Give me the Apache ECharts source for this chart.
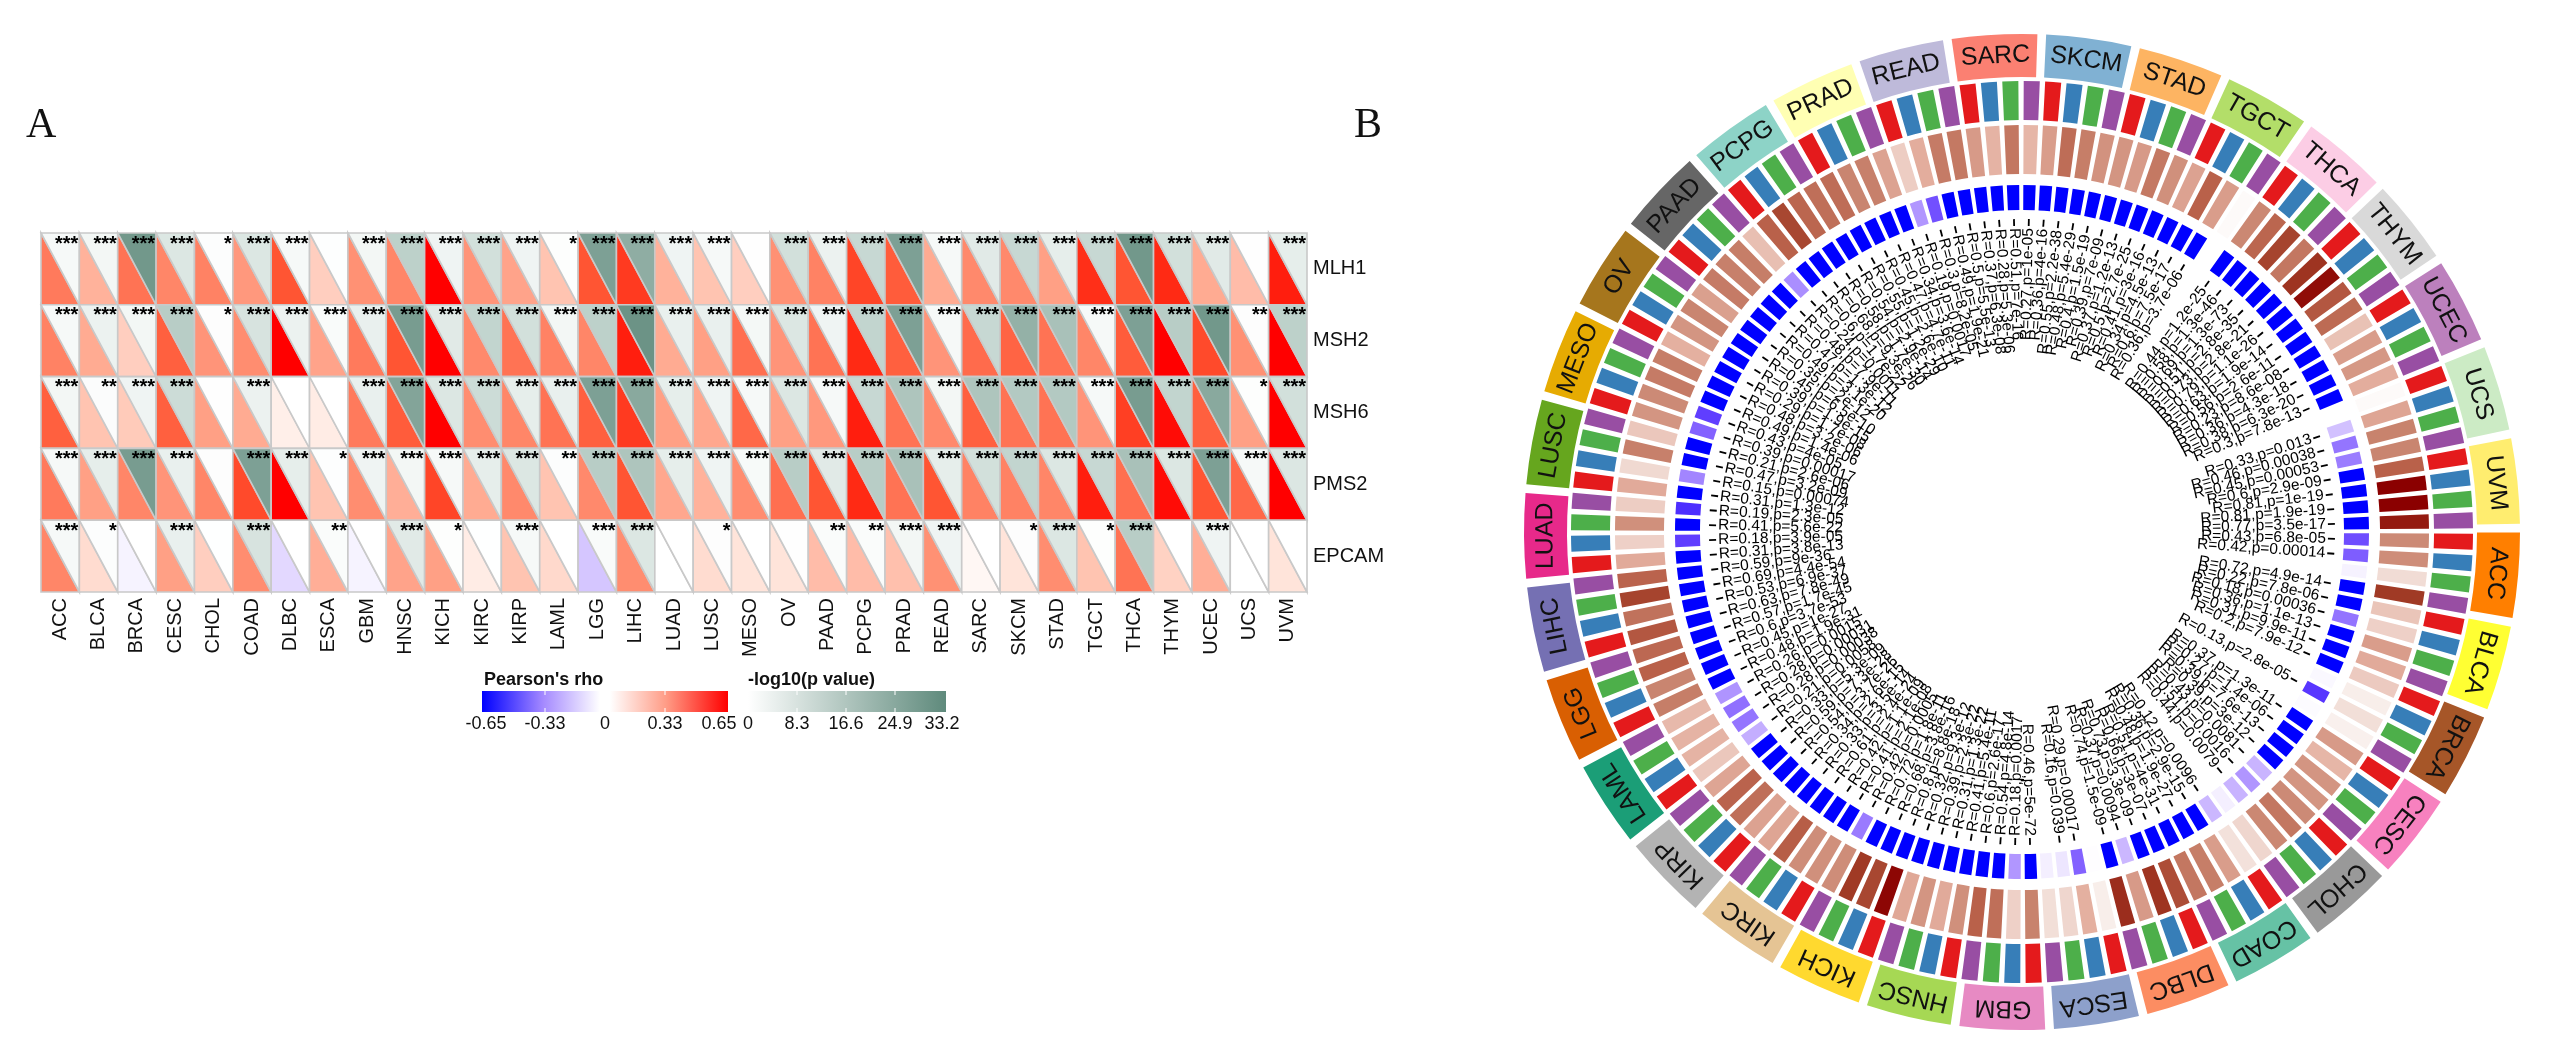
<!DOCTYPE html>
<html><head><meta charset="utf-8">
<style>html,body{margin:0;padding:0;background:#fff}#c{width:2560px;height:1052px}</style>
<script src="https://cdn.jsdelivr.net/npm/echarts@6/dist/echarts.min.js"></script>
</head><body><div id="c"></div>
<script>
const cancers = ["ACC","BLCA","BRCA","CESC","CHOL","COAD","DLBC","ESCA","GBM","HNSC","KICH","KIRC","KIRP","LAML","LGG","LIHC","LUAD","LUSC","MESO","OV","PAAD","PCPG","PRAD","READ","SARC","SKCM","STAD","TGCT","THCA","THYM","UCEC","UCS","UVM"];
const genes = ["MLH1","MSH2","MSH6","PMS2","EPCAM"];
const rhoMLH1 = [.4,.25,.42,.37,.38,.32,.5,.17,.34,.37,.65,.33,.29,.2,.5,.55,.25,.2,.17,.34,.38,.53,.48,.27,.36,.36,.3,.57,.5,.58,.27,.22,.6];
const rhoMSH2 = [.38,.27,.17,.47,.33,.35,.65,.29,.4,.5,.65,.36,.42,.38,.37,.6,.27,.3,.43,.33,.42,.58,.47,.33,.44,.46,.42,.37,.48,.65,.52,.34,.65];
const rhoMSH6 = [.47,.2,.18,.47,.3,.27,.06,.07,.4,.48,.65,.35,.37,.42,.47,.55,.3,.28,.45,.3,.32,.6,.42,.36,.47,.42,.42,.33,.54,.63,.47,.3,.65];
const rhoPMS2 = [.4,.3,.37,.33,.37,.52,.65,.2,.35,.26,.53,.27,.36,.2,.36,.5,.28,.25,.35,.43,.5,.58,.42,.5,.38,.38,.37,.6,.43,.63,.5,.45,.65];
const rhoEPCAM = [.37,.13,-.04,.3,.17,.35,-.13,.26,-.04,.29,.3,.07,.2,.14,-.18,.35,0,.13,.1,.1,.22,.22,.21,.34,.03,.1,.35,.2,.42,.16,.26,0,.1];
const logpMLH1 = [3,4,30,10,1,10,3,.5,4,16,5,12,5,.7,28,25,5,3,.3,12,6,14,28,3,9,14,8,14,30,12,9,.3,8];
const logpMSH2 = [3,6,4,17,.8,11,6,2,7,29,9,15,12,4,16,31,7,7,3.5,10,5,15,28,3,14,24,20,3,28,17,30,.8,16];
const logpMSH6 = [4,1.2,5,13,.3,6,0,0,7,27,10,13,8,7,28,26,8,5,3,10,3,14,19,4,19,18,18,3,29,15,26,.7,12];
const logpPMS2 = [3,8,29,7,.8,28,8,.6,5,4,3,8,10,1,17,19,8,5,2.5,17,9,17,20,8,12,15,10,14,20,10,28,3,10];
const logpEPCAM = [3,1,0,7,.2,11,0,1.5,.1,9,.7,.2,3,0,2,10,0,.8,0,.4,1.5,1.5,4,5,0,.8,10,.7,17,0,5,0,0];
const starsMLH1 = [3,3,3,3,1,3,3,0,3,3,3,3,3,1,3,3,3,3,0,3,3,3,3,3,3,3,3,3,3,3,3,0,3];
const starsMSH2 = [3,3,3,3,1,3,3,3,3,3,3,3,3,3,3,3,3,3,3,3,3,3,3,3,3,3,3,3,3,3,3,2,3];
const starsMSH6 = [3,2,3,3,0,3,0,0,3,3,3,3,3,3,3,3,3,3,3,3,3,3,3,3,3,3,3,3,3,3,3,1,3];
const starsPMS2 = [3,3,3,3,0,3,3,1,3,3,3,3,3,2,3,3,3,3,3,3,3,3,3,3,3,3,3,3,3,3,3,3,3];
const starsEPCAM = [3,1,0,3,0,3,0,2,0,3,1,0,3,0,3,3,0,1,0,0,2,2,3,3,0,1,3,1,3,0,3,0,0];
const rhoTicks = ["-0.65","-0.33","0","0.33","0.65"];
const logpTicks = ["0","8.3","16.6","24.9","33.2"];
const circleR = [.43,.42,.14,.72,.22,.18,.36,.31, .2,.07,.13,.06,.37,.27,.39,.39, .43,.51,.44,.16,.12,.36,.48,.51, .66,.73,.37,.74,.07,.29,.16,.13,
 .46,.18,.54,.6,.41,.31,.39,.32, .8,.68,.72,.42,.41,.42,.61,.33, .34,.54,.59,.33,.21,.28,.28,.26, .48,.45,.6,.57,.63,.53,.69,.59,
 .31,.18,.41,.19,.31,.15,.47,.21, .39,.43,.49,.48,.29,.39,.45,.35, .49,.47,.48,.24,.6,.68,.58,.54, .55,.45,.47,.34,.19,.3,.49,.5,
 .37,.28,.51,.27,.36,.55,.48,.4, .39,.37,.5,.41,.34,.6,.36,.02, .44,.58,.69,.51,.73,.79,.63,.56, .23,.36,.38,.3,.02,.33,.46,.45, .6,.81,.81,.77];
const circleP = ["6.8e-05","0.00014","0.09","4.9e-14","7.8e-06","0.00036","1.1e-13","9.9e-11","7.9e-12","0.2","2.8e-05","0.3","1.3e-11","1.4e-06","7.6e-13","3e-12",
 "0.0081","0.0016","0.0079","0.06","0.0096","2.9e-15","1.9e-27","4e-31","3e-07","3.3e-09","0.0094","1.5e-09","0.4","0.00017","0.039","0.06",
 "5e-72","0.0017","4.8e-14","2.6e-17","5.4e-11","1.3e-22","2.3e-22","9.3e-12","8.8e-18","3.8e-16","1.8e-11","0.0005","2.1e-08","1.1e-09","2.4e-24","3.5e-14",
 "2.6e-15","3.7e-26","7.3e-28","5.3e-09","0.0058","0.00038","0.00031","0.0015","1.9e-31","1e-27","3.7e-53","1.7e-45","7.8e-49","6.9e-37","4.4e-54","9e-36",
 "3.8e-13","3.9e-05","5.6e-22","2.3e-05","1.3e-12","0.00074","3.2e-09","2.6e-06","0.00017","4e-05","1.4e-06","3.2e-06","1.7e-08","1.9e-15","6.5e-10","2e-12",
 "3.1e-20","1.3e-12","7.9e-11","0.0011","1.7e-22","9.3e-26","1.7e-30","2.9e-14","1.2e-29","2.6e-10","4.7e-11","3.6e-14","0.0017","8.2e-05","1.9e-21","5.5e-13",
 "6.3e-08","5.3e-06","7e-16","1e-05","4e-16","2.2e-38","5.4e-29","1.5e-19","7e-09","1.2e-13","2.7e-25","3e-16","4.5e-13","7.5e-17","3.7e-06","0.5",
 "1.2e-25","1.3e-46","1.3e-73","2.8e-35","2.8e-21","1.1e-26","1.9e-14","2.6e-11","8.6e-08","4.3e-18","6.3e-20","7.8e-13","0.7","0.013","0.00038","0.00053",
 "2.9e-09","1e-19","1.9e-19","3.5e-17"];
const sectorColors = ["#FF7F00","#FFFF33","#A65628","#F781BF","#999999","#66C2A5","#FC8D62","#8DA0CB","#E78AC3","#A6D854","#FFD92F","#E5C494","#B3B3B3","#1B9E77","#D95F02","#7570B3","#E7298A","#66A61E","#E6AB02","#A6761D","#666666","#8DD3C7","#FFFFB3","#BEBADA","#FB8072","#80B1D3","#FDB462","#B3DE69","#FCCDE5","#D9D9D9","#BC80BD","#CCEBC5","#FFED6F"];
const geneColors = ["#E41A1C","#377EB8","#4DAF4A","#984EA3"];

const FONT = '"Liberation Sans",Arial,sans-serif';
const NARROW = '"Liberation Sans Narrow","Liberation Sans",Arial,sans-serif';
const hex = h => [1,3,5].map(i => parseInt(h.substr(i,2),16));
function ramp(stops, v){
  if (v <= stops[0][0]) return stops[0][1];
  for (let i=1;i<stops.length;i++) if (v <= stops[i][0]) {
    const [a,ca]=stops[i-1],[b,cb]=stops[i],t=(v-a)/(b-a),A=hex(ca),B=hex(cb);
    return `rgb(${A.map((x,k)=>Math.round(x+(B[k]-x)*t)).join(',')})`;
  }
  return stops[stops.length-1][1];
}
const rhoRamp=[[-.65,"#0000ff"],[-.33,"#a58aff"],[-.15,"#dfd2ff"],[0,"#ffffff"],[.07,"#ffece5"],[.14,"#ffd9cc"],[.21,"#ffc0ad"],[.28,"#ffa78e"],[.35,"#ff8d70"],[.43,"#ff6f50"],[.5,"#ff5533"],[.58,"#ff2a14"],[.65,"#ff0000"]];
const logpRamp=[[0,"#ffffff"],[8,"#e6eeeb"],[16.6,"#bacfc8"],[25,"#8fada3"],[33.2,"#5f8a7c"]];
const brownRamp=[[0,"#ffffff"],[.13,"#f2dfd8"],[.3,"#e3ad9d"],[.45,"#c98570"],[.6,"#b9614a"],[.72,"#a03a25"],[.81,"#8b0000"]];
const blueRamp=[[.3,"#ffffff"],[1.3,"#f3eeff"],[2,"#ccb8ff"],[3,"#a98cff"],[4,"#7755ff"],[4.6,"#5533ff"],[5,"#0000ff"]];

const rhoRows=[rhoMLH1,rhoMSH2,rhoMSH6,rhoPMS2,rhoEPCAM], logpRows=[logpMLH1,logpMSH2,logpMSH6,logpPMS2,logpEPCAM], starRows=[starsMLH1,starsMSH2,starsMSH6,starsPMS2,starsEPCAM];
const heatData=[];
genes.forEach((g,r)=>cancers.forEach((c,i)=>heatData.push([i,r,rhoRows[r][i],logpRows[r][i],starRows[r][i]])));

function renderCell(params,api){
  const c=api.coord([api.value(0),api.value(1)]), s=api.size([1,1]);
  const l=c[0]-s[0]/2,r=c[0]+s[0]/2,t=c[1]-s[1]/2,b=c[1]+s[1]/2;
  const stroke={stroke:'#c9c9c9',lineWidth:1.6};
  const kids=[
    {type:'polygon',shape:{points:[[l,t],[l,b],[r,b]]},style:{fill:ramp(rhoRamp,api.value(2)),...stroke}},
    {type:'polygon',shape:{points:[[l,t],[r,t],[r,b]]},style:{fill:ramp(logpRamp,api.value(3)),...stroke}}
  ];
  const n=api.value(4);
  if(n>0) kids.push({type:'text',x:r-1,y:t+1,style:{text:'*'.repeat(n),fontSize:20,fontWeight:'bold',fontFamily:FONT,fill:'#000',align:'right',verticalAlign:'top'}});
  return {type:'group',children:kids};
}

// Circular panel: angle axis runs over the 132 gene positions, radius axis in ring units
const RING={blue:[322,347],brown:[358,407],gene:[412,451],sector:[455,498],tick:[306,313],text:304};
function sectorShape(params,api,a0,a1,r0,r){
  const cs=params.coordSys, p0=api.coord([r,a0]), p1=api.coord([r,a1]);
  const ang=p=>Math.atan2(p[1]-cs.cy,p[0]-cs.cx);
  let s=ang(p0),e=ang(p1); if(e<s) e+=Math.PI*2;
  return {cx:cs.cx,cy:cs.cy,r0,r,startAngle:s,endAngle:e,clockwise:true};
}
const barData=circleR.map((R,i)=>[i,R,circleP[i]]);
function renderBars(params,api){
  const i=api.value(0), a0=i+.08, a1=i+.83;
  const R=circleR[i], lp=-Math.log10(Number(circleP[i]));
  return {type:'group',children:[
    {type:'sector',shape:sectorShape(params,api,a0,a1,...RING.gene),style:{fill:geneColors[i%4]}},
    {type:'sector',shape:sectorShape(params,api,a0,a1,...RING.brown),style:{fill:ramp(brownRamp,R)}},
    {type:'sector',shape:sectorShape(params,api,a0,a1,...RING.blue),style:{fill:ramp(blueRamp,lp)}}
  ]};
}
const sectorData=cancers.map((c,s)=>[s*4,s]);
function renderSectors(params,api){
  const s=api.value(1), a0=s*4+.02, a1=s*4+3.65, cs=params.coordSys;
  const mid=api.coord([(RING.sector[0]+RING.sector[1])/2,(a0+a1)/2]);
  const th=Math.atan2(mid[1]-cs.cy,mid[0]-cs.cx);
  return {type:'group',children:[
    {type:'sector',shape:sectorShape(params,api,a0,a1,...RING.sector),style:{fill:sectorColors[s]}},
    {type:'text',x:mid[0],y:mid[1],rotation:-(th+Math.PI/2),style:{text:cancers[s],fontSize:25,fontFamily:FONT,fill:'#111',align:'center',verticalAlign:'middle'}}
  ]};
}
const labelData=barData.filter(d=>Number(d[2])<0.05);
function renderLabel(params,api){
  const i=api.value(0), cs=params.coordSys, a=i+.46;
  const txt=`R=${circleR[i]},p=${circleP[i]}`;
  const p=api.coord([RING.text,a]), t0=api.coord([RING.tick[0],a]), t1=api.coord([RING.tick[1],a]);
  const th=Math.atan2(p[1]-cs.cy,p[0]-cs.cx);
  const right=Math.cos(th)>=0;
  return {type:'group',children:[
    {type:'line',shape:{x1:t0[0],y1:t0[1],x2:t1[0],y2:t1[1]},style:{stroke:'#000',lineWidth:1.8}},
    {type:'text',x:p[0],y:p[1],rotation:right?-th:-(th-Math.PI),style:{text:txt,fontSize:15.5,fontFamily:FONT,fill:'#000',align:right?'right':'left',verticalAlign:'middle'}}
  ]};
}

// Legends
function legendTexts(items){return items.map(([text,x,bold])=>({type:'text',x,y:bold?680:724,style:{text,fontSize:18,fontFamily:NARROW,fontWeight:bold?'bold':'normal',fill:'#111',align:bold?'left':'center',verticalAlign:'middle'}}));}
const rhoTickX=[486,545,605,665,719], logpTickX=[748,797,846,895,942];
function ticks(xs){return xs.flatMap(x=>[{type:'line',shape:{x1:x,y1:691,x2:x,y2:695},style:{stroke:'#fff',lineWidth:1}},{type:'line',shape:{x1:x,y1:708,x2:x,y2:712},style:{stroke:'#fff',lineWidth:1}}]);}
const graphic=[
  {type:'text',x:26,y:126,style:{text:'A',fontSize:42,fontFamily:'"Liberation Serif",serif',fill:'#111',verticalAlign:'middle'}},
  {type:'text',x:1354,y:126,style:{text:'B',fontSize:42,fontFamily:'"Liberation Serif",serif',fill:'#111',verticalAlign:'middle'}},
  {type:'rect',shape:{x:482,y:691,width:246,height:21},style:{fill:new echarts.graphic.LinearGradient(0,0,1,0,[{offset:0,color:'#0000ff'},{offset:.25,color:'#a58aff'},{offset:.48,color:'#ffffff'},{offset:.52,color:'#ffffff'},{offset:.75,color:'#ff9b85'},{offset:1,color:'#ff0000'}])}},
  {type:'rect',shape:{x:748,y:691,width:198,height:21},style:{fill:new echarts.graphic.LinearGradient(0,0,1,0,[{offset:0,color:'#ffffff'},{offset:1,color:'#5f8a7c'}])}},
  ...ticks(rhoTickX.slice(1,4)),...ticks(logpTickX.slice(1,4)),
  ...legendTexts([["Pearson's rho",484,true],["-log10(p value)",748,true]]),
  ...legendTexts(rhoTicks.map((t,i)=>[t,rhoTickX[i],false])),
  ...legendTexts(logpTicks.map((t,i)=>[t,logpTickX[i],false]))
];

const chart=echarts.init(document.getElementById('c'),null,{width:2560,height:1052});
chart.setOption({
  animation:false,backgroundColor:'#fff',
  grid:{left:41,top:233,width:1266,height:359},
  xAxis:{type:'category',data:cancers,axisLine:{show:false},axisTick:{show:false},splitLine:{show:false},
    axisLabel:{rotate:90,interval:0,margin:6,fontSize:20,fontFamily:FONT,color:'#111'}},
  yAxis:{type:'category',data:genes,inverse:true,position:'right',axisLine:{show:false},axisTick:{show:false},splitLine:{show:false},
    axisLabel:{margin:6,fontSize:20,fontFamily:FONT,color:'#111'}},
  polar:{center:[2022,532],radius:498},
  angleAxis:{type:'value',min:0,max:132,startAngle:0,clockwise:true,show:false,splitLine:{show:false}},
  radiusAxis:{type:'value',min:0,max:498,show:false,splitLine:{show:false}},
  graphic,
  series:[
    {type:'custom',coordinateSystem:'cartesian2d',data:heatData,encode:{x:0,y:1},renderItem:renderCell,silent:true},
    {type:'custom',coordinateSystem:'polar',data:barData.map(d=>[d[0],d[1]]),encode:{angle:0,radius:1},renderItem:renderBars,silent:true,clip:false},
    {type:'custom',coordinateSystem:'polar',data:sectorData,encode:{angle:0,radius:1},renderItem:renderSectors,silent:true,clip:false},
    {type:'custom',coordinateSystem:'polar',data:labelData.map(d=>[d[0],d[1]]),encode:{angle:0,radius:1},renderItem:renderLabel,silent:true,clip:false}
  ]
});
</script></body></html>
